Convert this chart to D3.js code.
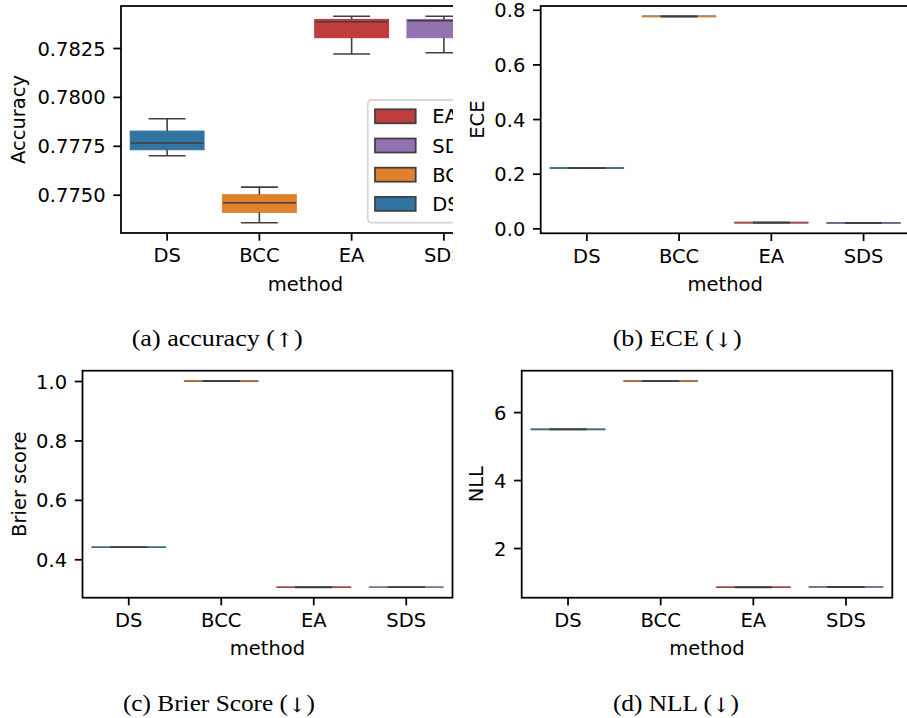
<!DOCTYPE html>
<html>
<head>
<meta charset="utf-8">
<script src="https://cdn.jsdelivr.net/npm/d3@7"></script>
<style>
  body { margin: 0; background: #fff; }
  svg { display: block; }
  text { font-family: "DejaVu Sans", sans-serif; }
  .caption { font-family: "Liberation Serif", "DejaVu Serif", serif; }
</style>
</head>
<body>
<svg id="chart" width="907" height="718"></svg>
<script>
// categories and colours
const methods = ["DS", "BCC", "EA", "SDS"];
const methodColors = ["#3274a1", "#e1812c", "#c03d3e", "#9372b2"];
const legendOrder = ["EA", "SDS", "BCC", "DS"];

// box stats per method: [whisker low, q1, median, q3, whisker high]
const accuracyBoxes = [
  [0.77699, 0.77730, 0.77764, 0.77825, 0.77888],
  [0.77357, 0.77410, 0.77459, 0.77500, 0.77539],
  [0.78219, 0.78303, 0.78384, 0.78396, 0.78412],
  [0.78226, 0.78303, 0.78389, 0.78396, 0.78412]
];
const eceBoxes = [
  [0.2204, 0.2205, 0.2206, 0.2207, 0.2208],
  [0.7755, 0.7756, 0.7757, 0.7758, 0.7759],
  [0.0208, 0.0209, 0.0210, 0.0211, 0.0212],
  [0.0197, 0.0198, 0.0199, 0.0200, 0.0201]
];
const brierBoxes = [
  [0.4403, 0.4404, 0.4405, 0.4406, 0.4407],
  [0.9996, 0.9997, 0.9998, 0.9999, 1.0000],
  [0.3054, 0.3055, 0.3056, 0.3057, 0.3058],
  [0.3056, 0.3057, 0.3058, 0.3059, 0.3060]
];
const nllBoxes = [
  [5.488, 5.490, 5.491, 5.492, 5.494],
  [6.909, 6.911, 6.912, 6.913, 6.915],
  [0.841, 0.843, 0.844, 0.845, 0.847],
  [0.850, 0.852, 0.853, 0.854, 0.856]
];

// tick values
const accuracyTicks = [0.7750, 0.7775, 0.7800, 0.7825];
const eceTicks = [0.0, 0.2, 0.4, 0.6, 0.8];
const brierTicks = [0.4, 0.6, 0.8, 1.0];
const nllTicks = [2, 4, 6];

const FONT = 19.5;
const TICK = 7.7;
const SPINE = 1.76;
const LINE = "#3f3f3f";

const svg = d3.select("#chart");

svg.append("defs").append("clipPath").attr("id", "clipA")
  .append("rect").attr("x", 0).attr("y", 0).attr("width", 453).attr("height", 310);

function drawPanel(opts) {
  const { root, left, top, width, height, boxes, ticks, format, ylabel, ylabelX, legend } = opts;

  const lo = d3.min(boxes, d => d[0]);
  const hi = d3.max(boxes, d => d[4]);
  const pad = (hi - lo) * 0.05;

  const x = d3.scaleBand().domain(methods).range([0, width])
    .paddingInner(0.2).paddingOuter(0.1);
  const y = d3.scaleLinear().domain([lo - pad, hi + pad]).range([height, 0]);

  const g = root.append("g").attr("transform", `translate(${left},${top})`);

  // boxes
  const box = g.selectAll("g.box").data(boxes).join("g").attr("class", "box");
  const bx = (d, i) => x(methods[i]);
  const bw = x.bandwidth();

  box.append("rect")
    .attr("x", bx).attr("width", bw)
    .attr("y", d => y(d[3])).attr("height", d => Math.max(0, y(d[1]) - y(d[3])))
    .attr("fill", (d, i) => methodColors[i]);

  box.append("line")
    .attr("x1", bx).attr("x2", (d, i) => bx(d, i) + bw)
    .attr("y1", d => y(d[2])).attr("y2", d => y(d[2]))
    .attr("stroke", LINE).attr("stroke-width", 1.6);

  box.append("rect")
    .attr("x", bx).attr("width", bw)
    .attr("y", d => y(d[3])).attr("height", d => Math.max(0, y(d[1]) - y(d[3])))
    .attr("fill", "none")
    .attr("stroke", (d, i) => methodColors[i]).attr("stroke-width", 1.1);

  const cx = (d, i) => bx(d, i) + bw / 2;
  // whiskers
  box.append("line")
    .attr("x1", cx).attr("x2", cx)
    .attr("y1", d => y(d[3])).attr("y2", d => y(d[4]))
    .attr("stroke", LINE).attr("stroke-width", 1.6);
  box.append("line")
    .attr("x1", cx).attr("x2", cx)
    .attr("y1", d => y(d[1])).attr("y2", d => y(d[0]))
    .attr("stroke", LINE).attr("stroke-width", 1.6);
  // caps
  [0, 4].forEach(k => {
    box.append("line")
      .attr("x1", (d, i) => cx(d, i) - bw / 4).attr("x2", (d, i) => cx(d, i) + bw / 4)
      .attr("y1", d => y(d[k])).attr("y2", d => y(d[k]))
      .attr("stroke", LINE).attr("stroke-width", 1.6);
  });

  // axes
  const xAxis = d3.axisBottom(x).tickSize(TICK).tickSizeOuter(0).tickPadding(TICK);
  const yAxis = d3.axisLeft(y).tickValues(ticks).tickFormat(d3.format(format))
    .tickSize(TICK).tickSizeOuter(0).tickPadding(TICK);

  const gx = g.append("g").attr("transform", `translate(0,${height})`).call(xAxis);
  const gy = g.append("g").call(yAxis);
  [gx, gy].forEach(a => {
    a.select(".domain").remove();
    a.selectAll(".tick line").attr("stroke", "#000").attr("stroke-width", SPINE);
    a.selectAll(".tick text").attr("fill", "#000")
      .style("font-size", FONT + "px").style("font-family", "DejaVu Sans");
  });
  gy.selectAll(".tick text").attr("dy", "0.36em");

  // spines
  g.append("rect").attr("width", width).attr("height", height)
    .attr("fill", "none").attr("stroke", "#000").attr("stroke-width", SPINE);

  // labels
  g.append("text")
    .attr("x", width / 2).attr("y", height + 57.5)
    .attr("text-anchor", "middle")
    .style("font-size", FONT + "px")
    .text("method");

  g.append("text")
    .attr("transform", `translate(${ylabelX - left},${height / 2}) rotate(-90)`)
    .attr("text-anchor", "middle")
    .style("font-size", FONT + "px")
    .text(ylabel);

  if (legend) {
    const lg = g.append("g").attr("transform", `translate(${legend.x - left},${legend.y - top})`);
    lg.append("rect")
      .attr("width", 140).attr("height", 122.7).attr("rx", 4)
      .attr("fill", "#fff").attr("fill-opacity", 0.8)
      .attr("stroke", "#d6d6d6").attr("stroke-width", SPINE);
    const item = lg.selectAll("g.item").data(legendOrder).join("g")
      .attr("class", "item")
      .attr("transform", (d, i) => `translate(0,${16.3 + i * 29.2})`);
    item.append("rect")
      .attr("x", 7.3).attr("y", -7).attr("width", 40.7).attr("height", 14)
      .attr("fill", d => methodColors[methods.indexOf(d)])
      .attr("stroke", LINE).attr("stroke-width", SPINE);
    item.append("text")
      .attr("x", 64.6).attr("dy", "0.36em")
      .style("font-size", FONT + "px")
      .text(d => d);
  }
}

const panelA = svg.append("g").attr("clip-path", "url(#clipA)");

drawPanel({ root: panelA, left: 121, top: 6, width: 369, height: 227,
  boxes: accuracyBoxes, ticks: accuracyTicks, format: ".4f",
  ylabel: "Accuracy", ylabelX: 24.5, legend: { x: 367.7, y: 100 } });

drawPanel({ root: svg, left: 540.7, top: 6, width: 369, height: 227.3,
  boxes: eceBoxes, ticks: eceTicks, format: ".1f",
  ylabel: "ECE", ylabelX: 484 });

drawPanel({ root: svg, left: 82.5, top: 370.7, width: 370, height: 227,
  boxes: brierBoxes, ticks: brierTicks, format: ".1f",
  ylabel: "Brier score", ylabelX: 25.5 });

drawPanel({ root: svg, left: 521.7, top: 370.7, width: 370.6, height: 227,
  boxes: nllBoxes, ticks: nllTicks, format: "d",
  ylabel: "NLL", ylabelX: 483 });

// captions: label text, then an arrow glyph
const captions = [
  { text: "(a) accuracy (", arrow: "\u2191", x: 217.2, y: 346, len: 171 },
  { text: "(b) ECE (", arrow: "\u2193", x: 677.2, y: 346, len: 129 },
  { text: "(c) Brier Score (", arrow: "\u2193", x: 218.9, y: 711, len: 192 },
  { text: "(d) NLL (", arrow: "\u2193", x: 675.9, y: 711, len: 126 }
];
const cap = svg.selectAll("text.caption").data(captions).join("text")
  .attr("class", "caption")
  .attr("x", d => d.x).attr("y", d => d.y)
  .attr("text-anchor", "middle")
  .attr("textLength", d => d.len).attr("lengthAdjust", "spacingAndGlyphs")
  .style("font-size", "23px");
cap.append("tspan").text(d => d.text);
cap.append("tspan").style("font-family", "DejaVu Serif").style("font-size", "20px")
  .attr("dy", 1).text(d => d.arrow);
cap.append("tspan").attr("dy", -1).text(")");
</script>
</body>
</html>
